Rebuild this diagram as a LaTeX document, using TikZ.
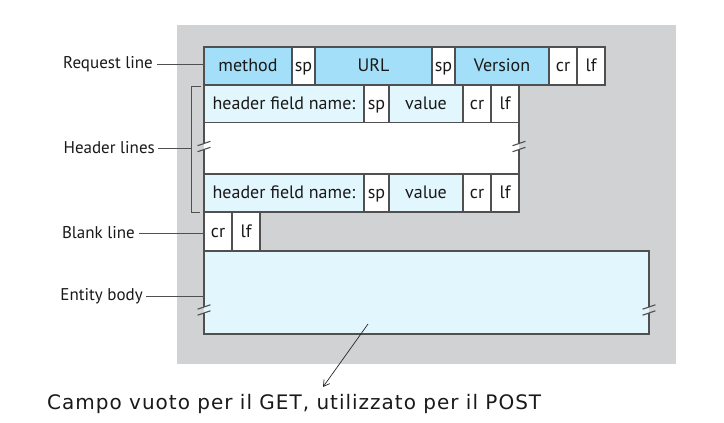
\documentclass[tikz,border=0pt]{standalone}
\usepackage{fontspec}
\setmainfont{PT Sans}
\newfontfamily\notefont[LetterSpace=5]{DejaVu Sans}
\usetikzlibrary{arrows.meta,calc}
\definecolor{bgGray}{HTML}{D1D2D4}
\definecolor{reqBlue}{HTML}{A3DFF8}
\definecolor{hdrBlue}{HTML}{E2F6FD}
\definecolor{edgeGray}{HTML}{505050}
\begin{document}
\begin{tikzpicture}[x=1pt,y=-1pt,
 cell/.style={draw=edgeGray, line width=1.1pt, anchor=north west, inner sep=0pt, outer sep=0pt, minimum height=38pt, font=\fontsize{18}{20}\selectfont, text height=13.5pt, text depth=2.5pt, text=black!90},
 req/.style={cell, fill=reqBlue},
 hdr/.style={cell, fill=hdrBlue},
 plain/.style={cell, fill=white},
 lbl/.style={anchor=east, inner sep=0pt, font=\fontsize{17}{19}\selectfont, text=black!90},
 lead/.style={draw=edgeGray, line width=0.8pt},
 brk/.style={draw=edgeGray, line width=1.1pt},
]
\useasboundingbox (0,0) rectangle (724,423);
\node[fill=bgGray, anchor=north west, minimum width=499pt, minimum height=339pt, inner sep=0pt, outer sep=0pt] (bg) at (177,25) {};

% request line
\node[req, minimum width=88pt] (method) at (204,47) {method};
\node[plain, minimum width=23pt] (sp1) at (292,47) {sp};
\node[req, minimum width=117pt] (url) at (315,47) {URL};
\node[plain, minimum width=23pt] (sp2) at (432,47) {sp};
\node[req, minimum width=94pt] (version) at (455,47) {Version};
\node[plain, minimum width=28pt] (rcr) at (549,47) {cr};
\node[plain, minimum width=28pt] (rlf) at (577,47) {lf};

% header line 1
\node[hdr, minimum width=160pt] (hname1) at (204,85) {header field name:};
\node[plain, minimum width=25pt] (hsp1) at (364,85) {sp};
\node[hdr, minimum width=74pt] (hval1) at (389,85) {value};
\node[plain, minimum width=28pt] (hcr1) at (463,85) {cr};
\node[plain, minimum width=28pt] (hlf1) at (491,85) {lf};

% gap region
\node[fill=white, anchor=north west, minimum width=315pt, minimum height=51pt, inner sep=0pt, outer sep=0pt] (gap) at (204,123) {};

% header line 2
\node[hdr, minimum width=160pt] (hname2) at (204,174) {header field name:};
\node[plain, minimum width=25pt] (hsp2) at (364,174) {sp};
\node[hdr, minimum width=74pt] (hval2) at (389,174) {value};
\node[plain, minimum width=28pt] (hcr2) at (463,174) {cr};
\node[plain, minimum width=28pt] (hlf2) at (491,174) {lf};

% gap borders with breaks
\draw[brk] (gap.north west) -- ++(0,20.5);
\draw[brk] ($(gap.north west)+(0,26.5)$) -- (gap.south west);
\draw[brk] (gap.north east) -- ++(0,20.5);
\draw[brk] ($(gap.north east)+(0,26.5)$) -- (gap.south east);
\draw[brk] ($(gap.north west)+(-6.5,22.7)$) -- ++(13,-4.4);
\draw[brk] ($(gap.north west)+(-6.5,28.7)$) -- ++(13,-4.4);
\draw[brk] ($(gap.north east)+(-6.5,22.7)$) -- ++(13,-4.4);
\draw[brk] ($(gap.north east)+(-6.5,28.7)$) -- ++(13,-4.4);

% blank line
\node[plain, minimum width=28pt, minimum height=39pt] (bcr) at (204,212) {cr};
\node[plain, minimum width=28pt, minimum height=39pt] (blf) at (232,212) {lf};

% entity body
\node[fill=hdrBlue, anchor=north west, minimum width=445pt, minimum height=83pt, inner sep=0pt, outer sep=0pt] (entity) at (204,251) {};
\draw[brk] ($(entity.north west)+(0,56)$) -- (entity.north west) -- (entity.north east) -- ++(0,56);
\draw[brk] ($(entity.north west)+(0,62)$) -- (entity.south west) -- (entity.south east) -- ($(entity.north east)+(0,62)$);
\draw[brk] ($(entity.north west)+(-6.5,58.2)$) -- ++(13,-4.4);
\draw[brk] ($(entity.north west)+(-6.5,64.2)$) -- ++(13,-4.4);
\draw[brk] ($(entity.north east)+(-6.5,58.2)$) -- ++(13,-4.4);
\draw[brk] ($(entity.north east)+(-6.5,64.2)$) -- ++(13,-4.4);

% bracket for header lines
\coordinate (brT) at ($(hname1.north west)+(-3,1)$);
\coordinate (brB) at ($(hname2.south west)+(-4,0)$);
\draw[lead] (brT) -- (brT -| 191,0) -- (brB -| 191,0) -- (brB);

% labels
\node[lbl] (lreq) at (153,64) {Request line};
\node[lbl] (lhdr) at (155,148) {Header lines};
\node[lbl] (lblank) at (135,233) {Blank line};
\node[lbl] (lent) at (143,296) {Entity body};
\draw[lead, shorten <=4pt] (lreq.east) -- (lreq.east -| method.west);
\draw[lead, shorten <=3pt] (lhdr.east) -- (lhdr.east -| 191,0);
\draw[lead, shorten <=4pt] (lblank.east) -- (lblank.east -| bcr.west);
\draw[lead, shorten <=3pt] (lent.east) -- (lent.east -| entity.west);

% note
\node[anchor=west, inner sep=0pt, font=\notefont\fontsize{20}{22}\selectfont, text=black!90] (note) at (47,404) {Campo vuoto per il GET, utilizzato per il POST};
\coordinate (arrS) at (368,324);
\coordinate (arrE) at (323,387);
\draw[-{Straight Barb[length=6pt,width=7pt]}, line width=0.7pt, black!85] (arrS) -- (arrE);
\end{tikzpicture}
\end{document}
